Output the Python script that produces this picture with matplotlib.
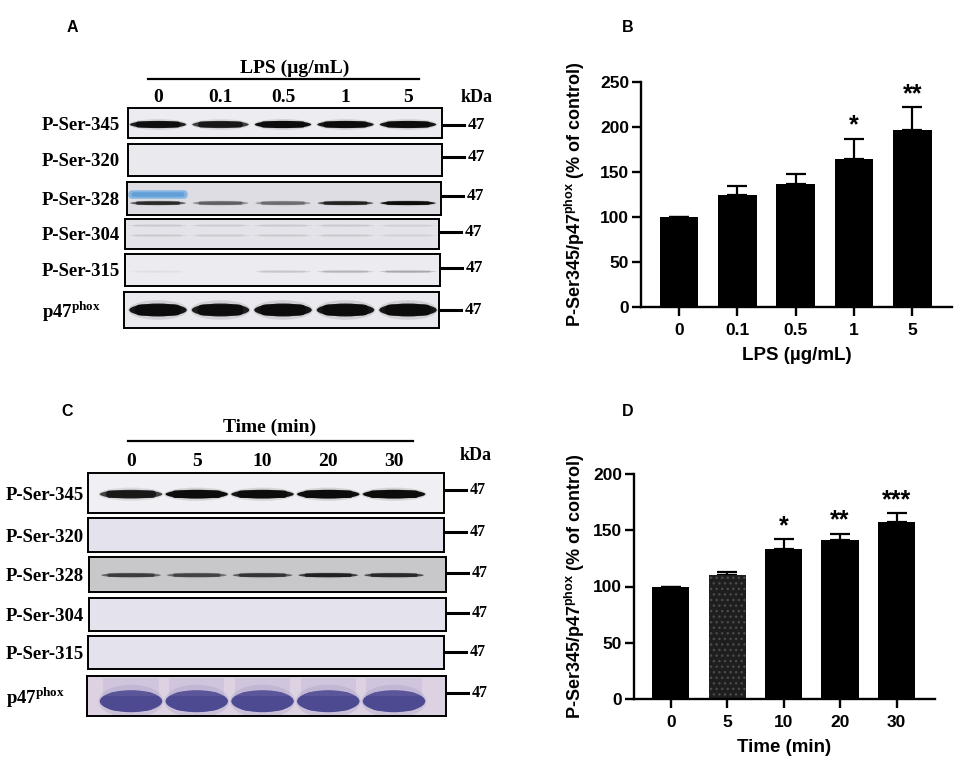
import matplotlib.pyplot as plt
import matplotlib.transforms as mtransforms
from matplotlib.patches import Ellipse, FancyBboxPatch, Rectangle
import numpy as np

W, H = 957, 762

lps_doses = ['0', '0.1', '0.5', '1', '5']
lps_mean = [100, 125, 137, 165, 197]
lps_err = [0, 10, 11, 22, 25]
lps_stars = ['', '', '', '*', '**']

time_points = ['0', '5', '10', '20', '30']
time_mean = [100, 110, 133, 141, 157]
time_err = [0, 3, 9, 6, 8]
time_stars = ['', '', '*', '**', '***']

row_names = ['P-Ser-345', 'P-Ser-320', 'P-Ser-328', 'P-Ser-304', 'P-Ser-315',
             r'p47$^{\mathregular{phox}}$']

# band darkness per row / lane for the blots (0 = nothing, 1 = saturated)
lps_levels = [
    [0.9, 0.75, 1.0, 0.95, 0.95],
    [0.0, 0.0, 0.0, 0.0, 0.0],
    [0.6, 0.35, 0.3, 0.65, 0.95],
    [0.06, 0.05, 0.06, 0.06, 0.04],
    [0.02, 0.0, 0.08, 0.12, 0.15],
    [0.95, 0.9, 0.95, 0.95, 0.95],
]
lps_blue = [0.85, 0.0, 0.0, 0.0, 0.0]   # blue marker smear in P-Ser-328, lane 0

time_levels = [
    [0.75, 1.0, 0.95, 1.0, 1.0],
    [0.0, 0.0, 0.0, 0.0, 0.0],
    [0.55, 0.5, 0.6, 0.8, 0.7],
    [0.0, 0.0, 0.0, 0.0, 0.0],
    [0.0, 0.0, 0.0, 0.0, 0.0],
    [1.0, 1.0, 1.0, 1.0, 1.0],
]

SERIF = ['Liberation Serif', 'DejaVu Serif']
SANS = ['Liberation Sans', 'DejaVu Sans']


def px_rect(x0, y0, x1, y1):
    return [x0 / W, 1 - y1 / H, (x1 - x0) / W, (y1 - y0) / H]


def stadium(ax, x, y, w, h, color, alpha, asp):
    # rounded band; asp = pixels per lane / pixels per strip height
    r = h / 2 / asp
    ax.add_patch(FancyBboxPatch((x - w / 2, y - h / 2), w, h,
                                boxstyle=f'round,pad=0,rounding_size={r}',
                                mutation_aspect=asp, color=color, alpha=alpha, lw=0))


def draw_band(ax, lane, y, level, color, w, h, asp):
    if level <= 0:
        return
    a = min(1, level)
    ax.add_patch(Ellipse((lane, y), w * 1.04, h * 1.5, color=color,
                         alpha=0.12 * level, lw=0))
    ax.add_patch(Ellipse((lane, y), w, h, color=color, alpha=a, lw=0))
    stadium(ax, lane, y, w * 0.8, h * 0.85, color, a, asp)


def blot_panel(fig, ov, levels, lay):
    strips = []
    for i, name in enumerate(row_names):
        l, r, t, b = lay['left'][i], lay['right'][i], lay['top'][i], lay['bottom'][i]
        ax = fig.add_axes(px_rect(l, t, r, b))
        ax.set_xlim((l - lay['c0']) / lay['pitch'], (r - lay['c0']) / lay['pitch'])
        ax.set_ylim(1, 0)
        ax.set_xticks([])
        ax.set_yticks([])
        ax.set_facecolor(lay['bg'][i])
        for s in ax.spines.values():
            s.set_linewidth(1.4)
        asp = lay['pitch'] / (b - t)
        for lane, lev in enumerate(levels[i]):
            for y in lay['band_y'][i]:
                draw_band(ax, lane, y, lev, lay['band_color'][i],
                          lay['band_w'][i], lay['band_h'][i], asp)
        strips.append(ax)

        # row label and molecular weight marker
        ov.text(lay['label_x'], (t + b) / 2 + 2, name, ha='left', va='center',
                fontsize=13.5, fontweight='bold', family=SERIF)
        my = lay['mark_y'][i]
        ov.plot([r + 2, r + 22], [my, my], color='black', lw=2.2)
        ov.text(r + 26, my, '47', ha='left', va='center',
                fontsize=lay['mark_fs'], fontweight='bold', family=SERIF)
    return strips


def bar_panel(ax, labels, means, errs, stars, ymax, xlabel, colors, hatches):
    x = np.arange(len(labels))
    bars = ax.bar(x, means, width=0.66, color=colors, linewidth=0, zorder=2)
    for bar, h in zip(bars, hatches):
        if h:
            bar.set_hatch(h)
            bar.set_edgecolor('#4a4a4a')
    ax.errorbar(x, means, yerr=[np.zeros(len(errs)), errs], fmt='none',
                ecolor='black', elinewidth=1.6, capsize=7, capthick=1.6, zorder=1)
    for xi, m, e, s in zip(x, means, errs, stars):
        if s:
            ax.text(xi, m + e + ymax * 0.005, s, ha='center', va='bottom',
                    fontsize=18, fontweight='bold', family=SANS)
    ax.set_xticks(x)
    ax.set_xticklabels(labels)
    ax.set_ylim(0, ymax)
    ax.set_yticks(np.arange(0, ymax + 1, 50))
    ax.set_xlim(-0.65, 4.68)
    for s in ['top', 'right']:
        ax.spines[s].set_visible(False)
    for s in ['left', 'bottom']:
        ax.spines[s].set_linewidth(1.7)
    ax.tick_params(axis='both', width=1.7, length=6.5, labelsize=12.5)
    ax.tick_params(axis='x', pad=5)
    ax.tick_params(axis='y', pad=2)
    for lab in ax.get_xticklabels() + ax.get_yticklabels():
        lab.set_fontweight('bold')
        lab.set_family(SANS)
    ax.set_ylabel(r'P-Ser345/p47$^{\mathregular{phox}}$ (% of control)',
                  fontsize=13, fontweight='bold', family=SANS)
    ax.set_xlabel(xlabel, fontsize=13.5, fontweight='bold', family=SANS)


fig = plt.figure(figsize=(W / 100, H / 100), dpi=100)
fig.patch.set_facecolor('white')

ov = fig.add_axes([0, 0, 1, 1], zorder=5)
ov.set_xlim(0, W)
ov.set_ylim(H, 0)
ov.axis('off')
ov.patch.set_alpha(0)

# ---- panel A blot ----
lay_a = dict(
    left=[128, 128, 127, 125, 125, 124], right=[442, 442, 441, 439, 440, 439],
    top=[108, 144, 182, 219, 254, 292], bottom=[138, 176, 215, 249, 286, 328],
    c0=158, pitch=62.5,
    bg=['#ededf1', '#e9e9ee', '#dddde3', '#e3e3e9', '#ebebf0', '#e9e9ee'],
    band_y=[[0.55], [0.5], [0.64], [0.22, 0.55], [0.55], [0.5]],
    band_h=[0.24, 0.2, 0.12, 0.07, 0.07, 0.36],
    band_w=[0.9, 0.9, 0.88, 0.95, 0.9, 0.92],
    band_color=['#0c0c0c'] * 6,
    label_x=42, mark_y=[125, 157, 196, 232, 268, 310], mark_fs=12.5,
)
strips_a = blot_panel(fig, ov, lps_levels, lay_a)
for lane, lev in enumerate(lps_blue):
    if lev > 0:
        asp = lay_a['pitch'] / (lay_a['bottom'][2] - lay_a['top'][2])
        stadium(strips_a[2], lane, 0.38, 0.95, 0.26, '#79b0e2', lev, asp)
        stadium(strips_a[2], lane, 0.38, 0.85, 0.14, '#5d9bd6', lev, asp)

# ---- panel C blot ----
lay_c = dict(
    left=[88, 88, 89, 89, 88, 87], right=[444, 444, 446, 446, 444, 446],
    top=[473, 518, 557, 598, 636, 676], bottom=[513, 552, 592, 631, 669, 716],
    c0=131, pitch=65.75,
    bg=['#f0f0f4', '#e4e2ed', '#c8c8cb', '#e4e2ed', '#e4e2ed', '#dcd2e2'],
    band_y=[[0.53], [0.5], [0.52], [0.5], [0.5], [0.63]],
    band_h=[0.22, 0.2, 0.12, 0.2, 0.2, 0.55],
    band_w=[0.95, 0.9, 0.9, 0.9, 0.9, 0.95],
    band_color=['#0c0c0c', '#0c0c0c', '#1a1a1a', '#0c0c0c', '#0c0c0c', '#4e4a92'],
    label_x=6, mark_y=[490, 532, 573, 613, 652, 693], mark_fs=11.5,
)
strips_c = blot_panel(fig, ov, time_levels, lay_c)
# pale purple smear above the stained p47phox bands
for lane, lev in enumerate(time_levels[5]):
    strips_c[5].add_patch(Rectangle((lane - 0.42, 0.04), 0.84, 0.45, color='#9a8fc2',
                                    alpha=0.18 * lev, lw=0))

# headers over the blots
for strip, title, tx, ty, ly, lx0, lx1, lane_labels, lane_y, kda in [
        (strips_a[0], 'LPS (\u00b5g/mL)', 295, 68, 79, 148, 419, lps_doses, 98, (477, 97)),
        (strips_c[0], 'Time (min)', 270, 427, 441, 128, 413, time_points, 462, (476, 455))]:
    ov.text(tx, ty, title, ha='center', va='center', fontsize=14,
            fontweight='bold', family=SERIF)
    ov.plot([lx0, lx1], [ly, ly], color='black', lw=1.6)
    trans = mtransforms.blended_transform_factory(strip.transData, ov.transData)
    for i, lab in enumerate(lane_labels):
        ov.text(i, lane_y, lab, transform=trans, ha='center', va='center',
                fontsize=14, fontweight='bold', family=SERIF)
    ov.text(kda[0], kda[1], 'kDa', ha='center', va='center', fontsize=13,
            fontweight='bold', family=SERIF)

# ---- bar charts ----
ax_b = fig.add_axes(px_rect(641, 82, 952, 307))
bar_panel(ax_b, lps_doses, lps_mean, lps_err, lps_stars, 250,
          'LPS (\u00b5g/mL)', ['black'] * 5, [None] * 5)
ax_b.yaxis.set_label_coords(-0.174, 0.5)
ax_b.xaxis.set_label_coords(0.5, -0.178)

ax_d = fig.add_axes(px_rect(634, 474, 935, 699))
bar_panel(ax_d, time_points, time_mean, time_err, time_stars, 200,
          'Time (min)', ['black', '#1e1e1e', 'black', 'black', 'black'],
          [None, '...', None, None, None])
ax_d.yaxis.set_label_coords(-0.156, 0.5)
ax_d.xaxis.set_label_coords(0.5, -0.178)

# panel letters
for letter, x, y in [('A', 72, 28), ('B', 628, 27), ('C', 67, 412), ('D', 628, 412)]:
    ov.text(x, y, letter, ha='center', va='center', fontsize=11.5,
            fontweight='bold', family=SANS)

fig.savefig('out.png', dpi=100)
